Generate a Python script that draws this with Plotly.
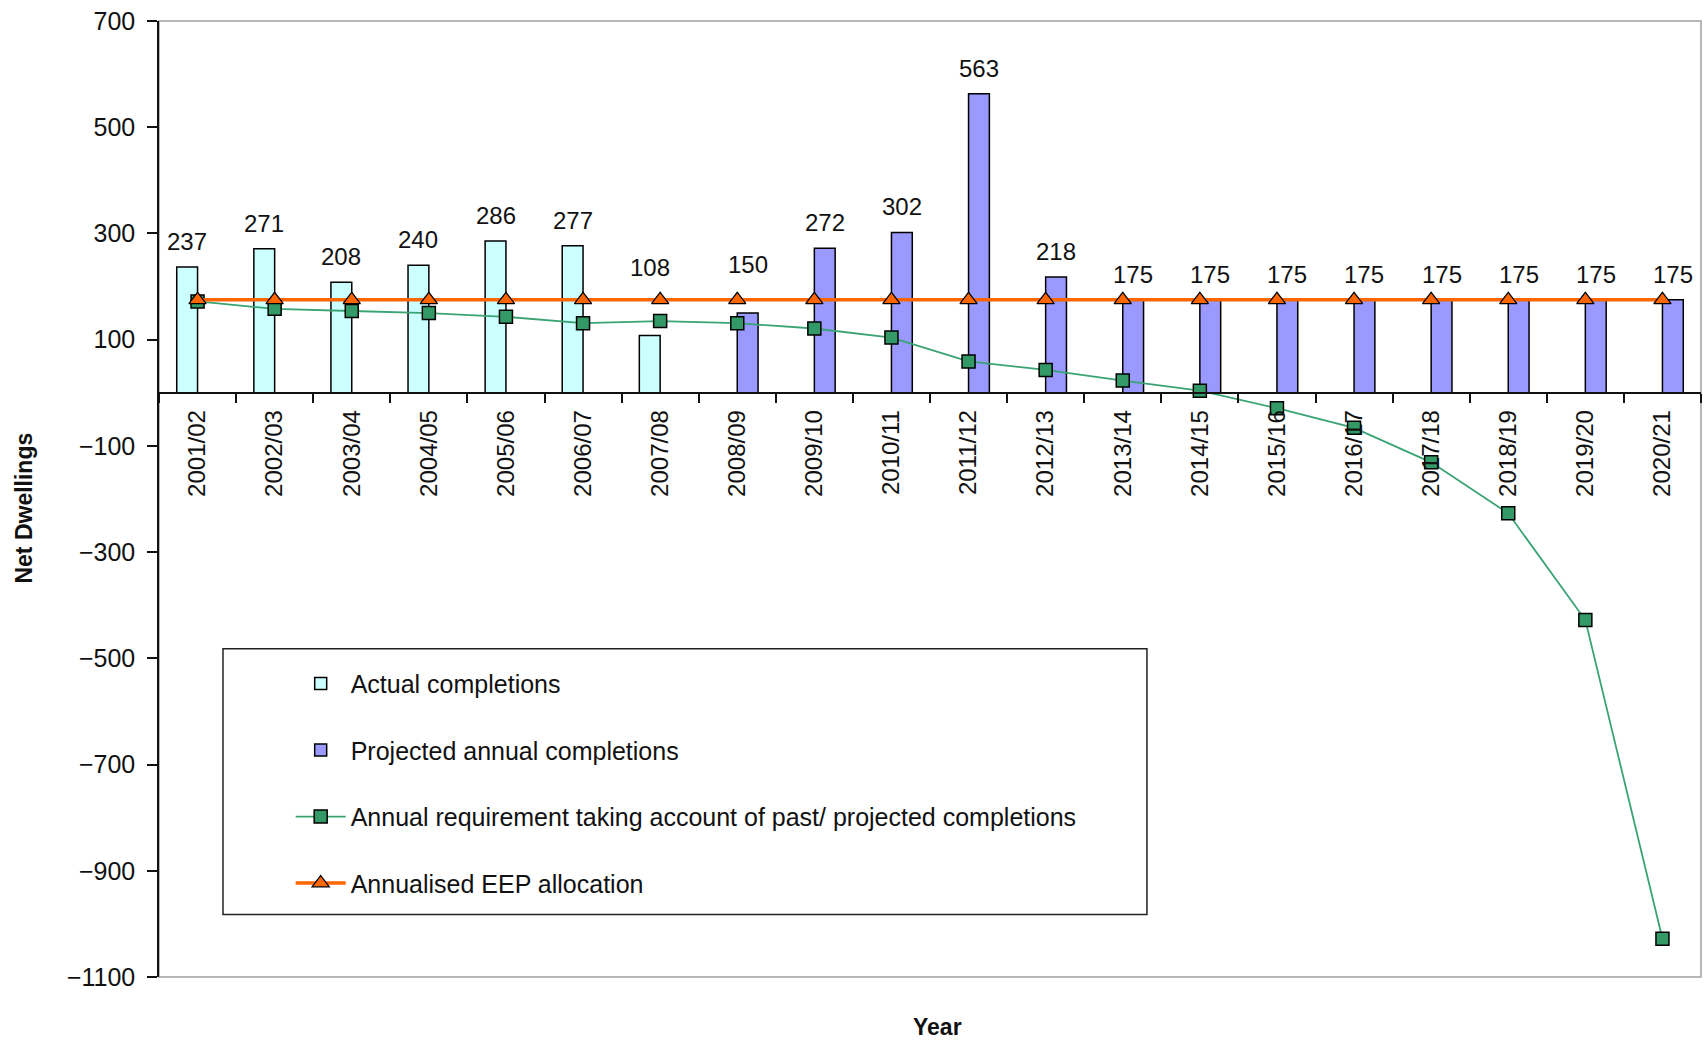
import plotly.graph_objects as go

categories = ["2001/02", "2002/03", "2003/04", "2004/05", "2005/06", "2006/07", "2007/08",
              "2008/09", "2009/10", "2010/11", "2011/12", "2012/13", "2013/14", "2014/15",
              "2015/16", "2016/17", "2017/18", "2018/19", "2019/20", "2020/21"]
actual = [237, 271, 208, 240, 286, 277, 108] + [None] * 13
projected = [None] * 7 + [150, 272, 302, 563, 218, 175, 175, 175, 175, 175, 175, 175, 175]
requirement = [172, 158, 154, 150, 143, 131, 135, 131, 121, 104, 59, 43, 23, 4,
               -29, -66, -131, -227, -428, -1028]
eep = [175] * 20
y_ticks = list(range(-1100, 701, 200))

FONT = "Liberation Sans, Arial, sans-serif"
TXT = "#111111"
BARGAP = 0.46
OFF = (1 - BARGAP) / 4
# labels lifted clear of the allocation line (pixel offsets, as in the original)
LABEL_LIFT = {"2007/08": 42, "2008/09": 23}

fig = go.Figure()
fig.add_trace(go.Bar(x=categories, y=actual, name="Actual completions",
                     marker=dict(color="#CCFFFF", line=dict(color="black", width=1.5)),
                     legendgroup="a"))
fig.add_trace(go.Bar(x=categories, y=projected, name="Projected annual completions",
                     marker=dict(color="#9999FF", line=dict(color="black", width=1.5)),
                     legendgroup="b"))
fig.add_trace(go.Scatter(x=categories, y=requirement, mode="lines+markers",
                         name="Annual requirement taking account of past/ projected completions",
                         line=dict(color="#3AA374", width=1.8),
                         marker=dict(symbol="square", size=13, color="#339966",
                                     line=dict(color="black", width=1.5)),
                         legendgroup="c"))
fig.add_trace(go.Scatter(x=categories, y=eep, mode="lines+markers",
                         name="Annualised EEP allocation",
                         line=dict(color="#FF6600", width=3.5),
                         marker=dict(symbol="triangle-up", size=15, color="#FF6600",
                                     line=dict(color="black", width=1.2)),
                         legendgroup="d"))

annotations = []
for series, sign in ((actual, -1), (projected, 1)):
    for i, v in enumerate(series):
        if v is not None:
            annotations.append(dict(x=i + sign * OFF, y=v, xref="x", yref="y", text=str(v),
                                    showarrow=False, yanchor="bottom",
                                    yshift=10 + LABEL_LIFT.get(categories[i], 0),
                                    font=dict(size=24, color=TXT, family=FONT)))
annotations.append(dict(x=0, y=0.49, xref="paper", yref="paper", text="<b>Net Dwellings</b>",
                        textangle=-90, showarrow=False, xshift=-135, xanchor="center",
                        yanchor="middle", font=dict(size=23, color=TXT, family=FONT)))
annotations.append(dict(x=0.505, y=0, xref="paper", yref="paper", text="<b>Year</b>",
                        showarrow=False, yshift=-50, yanchor="middle", xanchor="center",
                        font=dict(size=23, color=TXT, family=FONT)))

shapes = [
    dict(type="rect", xref="paper", yref="paper", x0=0, x1=1, y0=0, y1=1,
         line=dict(color="#a0a0a0", width=1.5), layer="below"),
    dict(type="rect", xref="paper", yref="paper", x0=0.0415, x1=0.6407, y0=0.0653, y1=0.3433,
         line=dict(color="#222222", width=1.5)),
]

fig.update_layout(
    width=1707, height=1042,
    margin=dict(l=159, r=6, t=21, b=65, autoexpand=False),
    paper_bgcolor="white", plot_bgcolor="white",
    barmode="group", bargap=BARGAP, bargroupgap=0,
    font=dict(family=FONT, color=TXT, size=24),
    showlegend=True,
    legend=dict(x=0.0854, y=0.3307, xanchor="left", yanchor="top",
                bgcolor="rgba(0,0,0,0)", borderwidth=0, tracegroupgap=31,
                itemwidth=50, traceorder="grouped",
                font=dict(size=25, color=TXT, family=FONT)),
    annotations=annotations,
    shapes=shapes,
    xaxis=dict(type="category", anchor="free", position=1100 / 1800, automargin=False,
               showline=True, linecolor="#111111", linewidth=1.5,
               ticks="outside", ticklen=9, tickcolor="#111111", tickwidth=1.5,
               tickson="boundaries", tickangle=-90, ticklabelstandoff=7,
               tickfont=dict(size=24, color=TXT, family=FONT),
               showgrid=False, zeroline=False, range=[-0.5, 19.5]),
    yaxis=dict(range=[-1100, 700], tickvals=y_ticks, showline=True, linecolor="#111111",
               automargin=False, ticklabeloverflow="allow",
               linewidth=1.5, ticks="outside", ticklen=10, tickcolor="#111111", tickwidth=1.5,
               ticklabelstandoff=7, tickfont=dict(size=25, color=TXT, family=FONT),
               showgrid=False, zeroline=False, domain=[0, 1]),
)

fig.write_html("out.html", config={"displayModeBar": False},
               post_script="document.body.style.margin='0';document.body.style.overflow='hidden';")
